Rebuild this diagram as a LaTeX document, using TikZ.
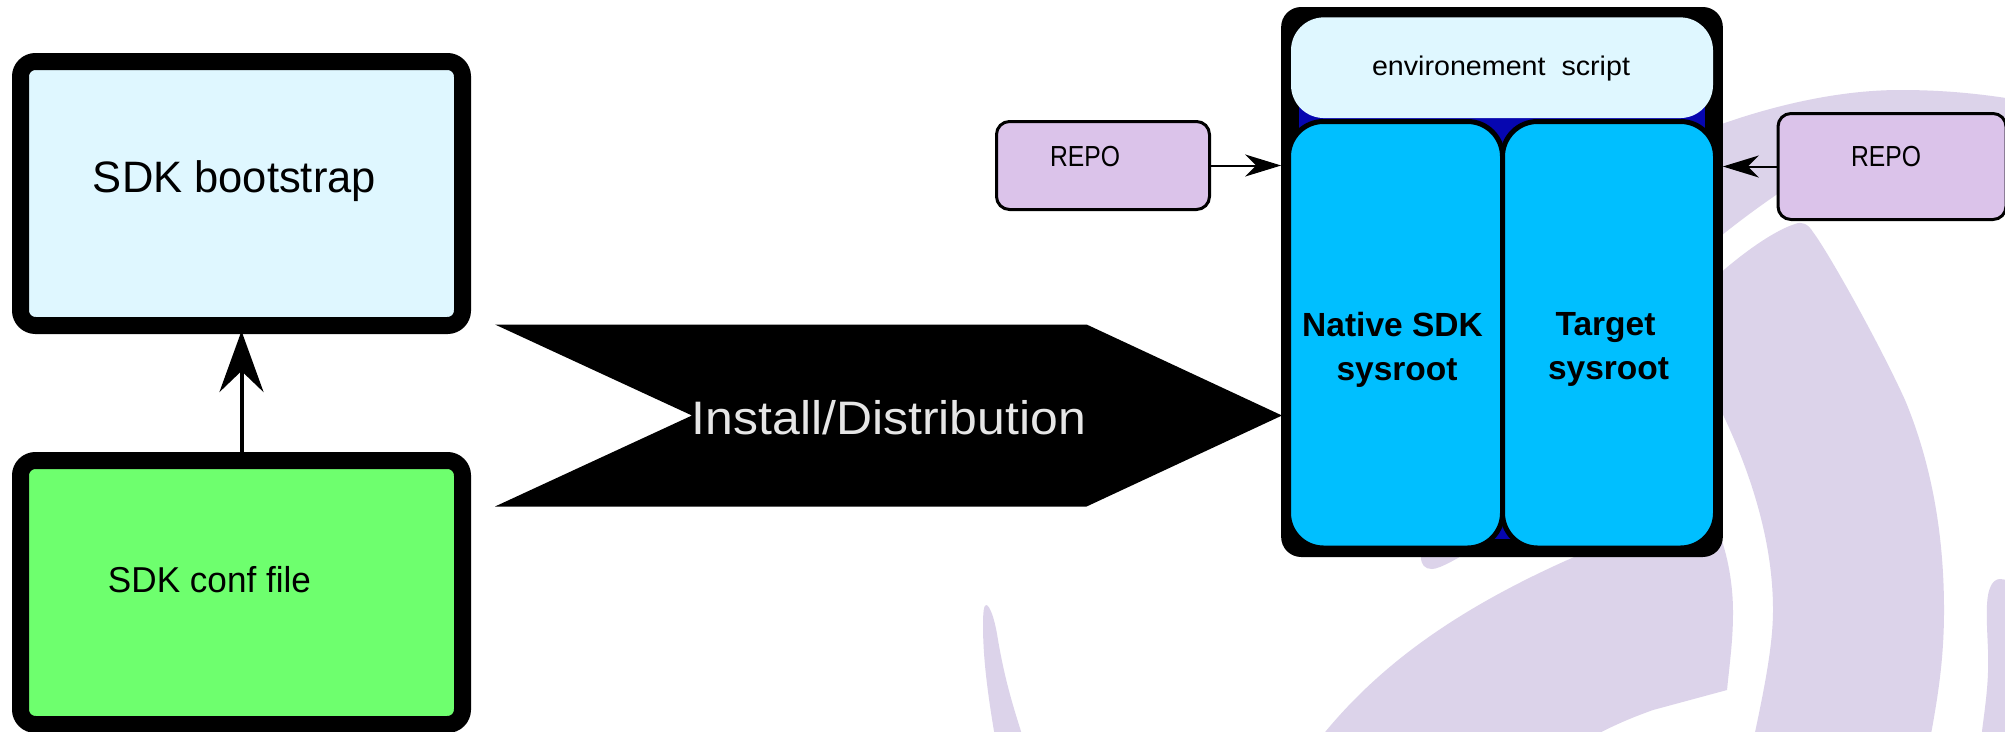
\documentclass[tikz,border=0pt]{standalone}
\usepackage{fontspec}
\setmainfont{Liberation Sans}
\usetikzlibrary{arrows.meta}
\definecolor{logoc}{HTML}{DCD3EA}
\definecolor{repoc}{HTML}{DBC3EA}
\definecolor{paleb}{HTML}{DFF7FF}
\definecolor{greenc}{HTML}{6EFF6E}
\definecolor{cyanc}{HTML}{00BFFF}
\definecolor{blued}{HTML}{0606B0}
\definecolor{ltext}{HTML}{E6E6E6}
\newcommand{\fsz}[1]{\fontsize{#1pt}{1.2\dimexpr #1pt\relax}\selectfont}
% size, width, text
\newcommand{\fittext}[3]{\resizebox{#2pt}{\height}{\fsz{#1}#3}}
\tikzset{
  x=1pt,y=-1pt,
  logo/.style={fill=logoc,draw=none},
  bigbox/.style={draw=black,line width=17pt,rounded corners=15pt,minimum width=442pt,minimum height=264pt,inner sep=0pt},
  repobox/.style={draw=black,fill=repoc,line width=3pt,rounded corners=13pt,inner sep=0pt},
  cell/.style={draw=black,fill=cyanc,line width=5pt,rounded corners=35pt,inner sep=0pt,minimum height=426.5pt},
  label/.style={anchor=base,inner sep=0pt,text=black},
  boldlabel/.style={anchor=center,align=center,inner sep=0pt,font=\bfseries\fsz{33.5}},
  bigarrow/.style={line width=4pt,shorten >=-3pt,-{Stealth[length=61pt,width=44pt,inset=21pt]}},
  smallarrow/.style={line width=2pt,-{Stealth[length=36pt,width=22pt,inset=11pt]}},
}
\begin{document}
\begin{tikzpicture}
\useasboundingbox (0,0) rectangle (2005,731);
\fill[white] (0,0) rectangle (2005,731);
% background logo
\fill[logo] (1700,132) .. controls (1770,105) and (1840,90) .. (1900,90)
  .. controls (1940,90) and (1980,93) .. (2030,102) -- (2030,155) -- (1840,155)
  .. controls (1790,183) and (1735,222) .. (1690,262) -- cycle;
\fill[logo] (1700,292) .. controls (1730,262) and (1770,232) .. (1795,224)
  .. controls (1802,221) and (1808,224) .. (1813,232)
  .. controls (1830,255) and (1880,345) .. (1905,400)
  .. controls (1930,460) and (1944,530) .. (1944,610)
  .. controls (1944,660) and (1938,700) .. (1925,765)
  -- (1748,765) .. controls (1762,700) and (1773,650) .. (1773,610)
  .. controls (1773,540) and (1750,460) .. (1700,370) -- cycle;
\fill[logo] (1300,765) .. controls (1370,665) and (1470,595) .. (1640,530) -- (1718,530)
  .. controls (1728,555) and (1733,585) .. (1733,612)
  .. controls (1733,640) and (1730,660) .. (1727,690)
  -- (1653,710) .. controls (1625,720) and (1600,731) .. (1570,750) -- (1560,765) -- cycle;
\fill[logo] (1421,540) -- (1421,557) .. controls (1421,565) and (1425,569) .. (1432,569)
  .. controls (1440,569) and (1460,557) .. (1480,545) -- cycle;
\fill[logo] (1000,765) .. controls (988,700) and (983,660) .. (983,625)
  .. controls (983,612) and (984,605) .. (986,605)
  .. controls (990,605) and (995,620) .. (998,640)
  .. controls (1005,680) and (1012,705) .. (1032,765) -- cycle;
\fill[logo] (1982,765) -- (1982,731) .. controls (1986,700) and (1989,680) .. (1988,650)
  .. controls (1987,625) and (1985,600) .. (1990,588)
  .. controls (1992,582) and (1996,579) .. (2000,579)
  -- (2015,581) -- (2015,765) -- cycle;
% left boxes
\node[bigbox,fill=paleb] (boot) at (241.5,193.5) {};
\node[bigbox,fill=greenc] (conf) at (241.5,592.5) {};
\node[label] (boott) at (234.5,192.5) {\fittext{44}{283}{SDK bootstrap}};
\node[label] (conft) at (209.5,592) {\fittext{36}{203}{SDK conf file}};
\draw[bigarrow] (conf.north) -- (boot.south);
% install band
\fill[black] (495,324.5) coordinate (b1) -- (1086.6,324.5) -- (1282,415.5) coordinate (btip) -- (1086.6,506.5) -- (495,506.5) -- (692,415.5) coordinate (bnotch) -- cycle;
\node[label,text=ltext] (inst) at (889,434.5) {\fittext{47}{394}{Install/Distribution}};
% SDK container
\node[fill=black,draw=none,rounded corners=20pt,minimum width=441.7pt,minimum height=550pt,inner sep=0pt,outer sep=0pt] (sdk) at (1502,282) {};
\fill[blued] (1299,100) rectangle (1705,539);
\node[cell,minimum width=214pt] (native) at (1395.5,334.75) {};
\node[cell,minimum width=213pt] (target) at (1609,334.75) {};
\node[fill=paleb,draw=none,rounded corners=33pt,minimum width=422pt,minimum height=100.7pt,inner sep=0pt] (env) at (1502,67.7) {};
\node[label] (envt) at (1501,75) {\fittext{27}{258}{environement\ \ script}};
\node[boldlabel] (nativet) at (1392.5,349.5) {Native SDK\\[4pt]\hspace*{9pt}sysroot};
\node[boldlabel] (targett) at (1608.5,349.5) {Target\hspace*{6pt}\\[4pt]sysroot};
% repos
\node[repobox,minimum width=213pt,minimum height=88pt] (repol) at (1103,165.5) {};
\node[label] (repolt) at (1085,166) {\fittext{29}{70}{REPO}};
\node[repobox,minimum width=228pt,minimum height=106pt] (repor) at (1892,166.5) {};
\node[label] (reportt) at (1886,166) {\fittext{29}{70}{REPO}};
\draw[smallarrow] (repol.east) -- (repol.east -| sdk.west);
\draw[smallarrow] (repor.west) -- (repor.west -| sdk.east);
\end{tikzpicture}
\end{document}
